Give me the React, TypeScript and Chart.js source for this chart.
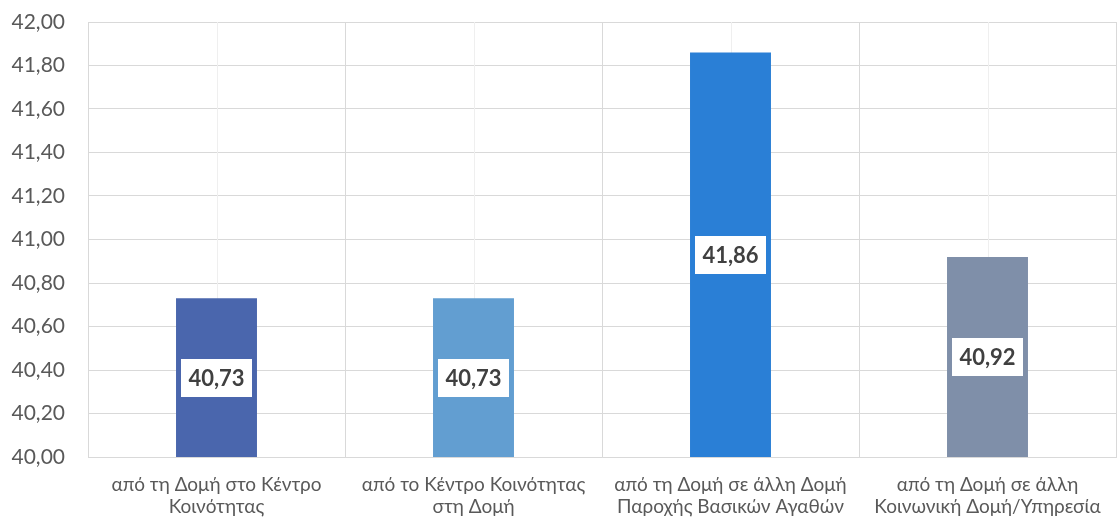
import React, { useEffect, useRef } from "react";
import { Chart, registerables } from "chart.js";

Chart.register(...registerables);

const categories: string[][] = [
  ["από τη Δομή στο Κέντρο", "Κοινότητας"],
  ["από το Κέντρο Κοινότητας", "στη Δομή"],
  ["από τη Δομή σε άλλη Δομή", "Παροχής Βασικών Αγαθών"],
  ["από τη Δομή σε άλλη", "Κοινωνική Δομή/Υπηρεσία"],
];
const values: number[] = [40.73, 40.73, 41.86, 40.92];
const barColors: string[] = ["#4A66AD", "#629ED1", "#2A7FD6", "#7F8FA9"];
const yMin = 40;
const yMax = 42;
const yStep = 0.2;

const fmt = (v: number) => v.toFixed(2).replace(".", ",");

const centerLinesPlugin = {
  id: "centerLines",
  beforeDatasetsDraw(chart: any) {
    const { ctx, chartArea, scales } = chart;
    const x = scales.x;
    ctx.save();
    ctx.strokeStyle = "#EFEFEF";
    ctx.lineWidth = 1;
    for (let i = 0; i < categories.length; i++) {
      const px = Math.round(x.getPixelForValue(i)) + 0.5;
      ctx.beginPath();
      ctx.moveTo(px, chartArea.top);
      ctx.lineTo(px, chartArea.bottom);
      ctx.stroke();
    }
    ctx.restore();
  },
};

const labelBoxPlugin = {
  id: "labelBoxes",
  afterDraw(chart: any) {
    const { ctx, scales } = chart;
    const x = scales.x;
    const y = scales.y;
    ctx.save();
    ctx.font = "bold 22px Lato, 'Noto Sans', sans-serif";
    ctx.textAlign = "center";
    ctx.textBaseline = "middle";
    values.forEach((v: number, i: number) => {
      const text = fmt(v);
      const cx = x.getPixelForValue(i);
      const cy = (y.getPixelForValue(v) + y.getPixelForValue(yMin)) / 2;
      const w = 71;
      const h = 38;
      ctx.fillStyle = "#FFFFFF";
      ctx.fillRect(Math.round(cx - w / 2), Math.round(cy - h / 2), w, h);
      ctx.fillStyle = "#404040";
      ctx.fillText(text, cx, cy + 1);
    });
    ctx.restore();
  },
};

export default function App() {
  const ref = useRef<HTMLCanvasElement | null>(null);
  useEffect(() => {
    document.body.style.margin = "0";
    if (!ref.current) return;
    const chart = new Chart(ref.current, {
      type: "bar",
      data: {
        labels: categories,
        datasets: [
          {
            data: values,
            backgroundColor: barColors,
            borderWidth: 0,
            barPercentage: 0.315,
            categoryPercentage: 1,
          },
        ],
      },
      options: {
        animation: false,
        responsive: false,
        maintainAspectRatio: false,
        layout: { padding: { top: 22, right: 1, left: 0, bottom: 0 } },
        plugins: {
          legend: { display: false },
          tooltip: { enabled: false },
        },
        scales: {
          x: {
            offset: true,
            grid: {
              offset: true,
              color: "#D9D9D9",
              lineWidth: 1,
              drawTicks: false,
            },
            border: { display: true, color: "#D9D9D9" },
            ticks: {
              color: "#595959",
              font: { family: "Lato, 'Noto Sans', sans-serif", size: 19, lineHeight: 1.2 },
              padding: 16,
              maxRotation: 0,
              autoSkip: false,
            },
            afterFit(scale: any) {
              scale.height = 63;
              scale.paddingLeft = 0;
              scale.paddingRight = 0;
            },
          },
          y: {
            min: yMin,
            max: yMax,
            grid: { color: "#D9D9D9", lineWidth: 1, drawTicks: false },
            border: { display: true, color: "#D9D9D9" },
            ticks: {
              stepSize: yStep,
              color: "#595959",
              font: { family: "Lato, 'Noto Sans', sans-serif", size: 21 },
              padding: 23,
              callback: (v: any) => fmt(Number(v)),
            },
            afterFit(scale: any) {
              scale.width = 88;
              scale.paddingTop = 0;
              scale.paddingBottom = 0;
            },
          },
        },
      },
      plugins: [centerLinesPlugin, labelBoxPlugin],
    });
    return () => chart.destroy();
  }, []);
  return (
    <div style={{ width: 1117, height: 520 }}>
      <canvas ref={ref} width={1117} height={520} style={{ display: "block" }} />
    </div>
  );
}
